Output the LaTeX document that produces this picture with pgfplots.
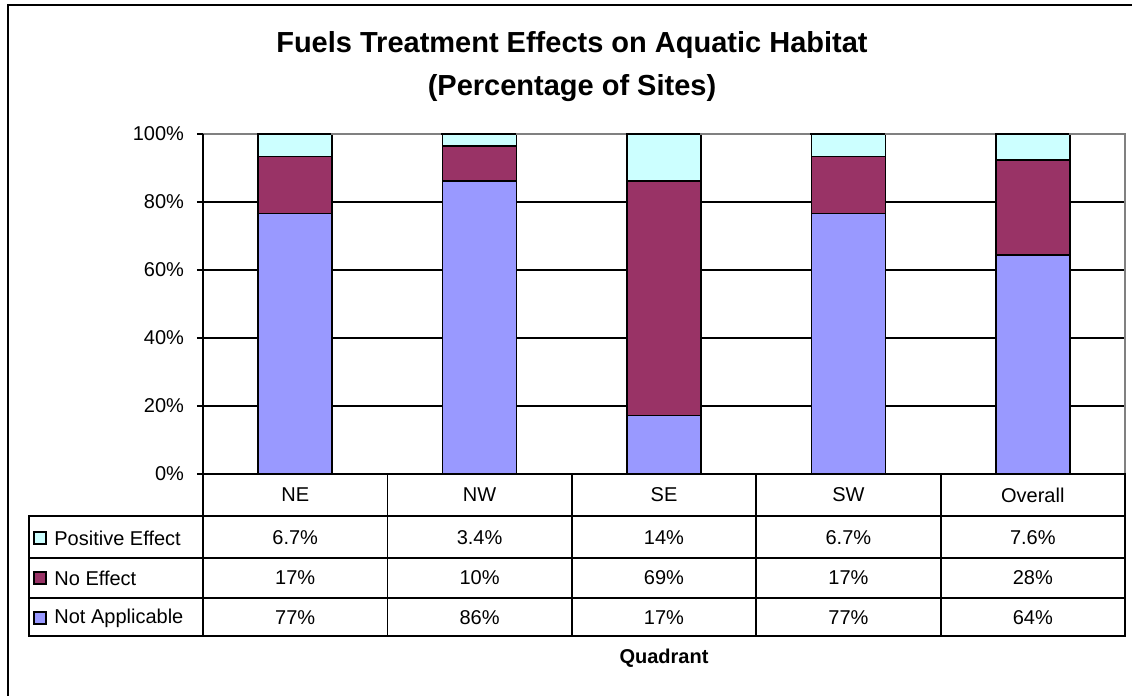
\documentclass[border=0pt]{standalone}
\usepackage{fontspec}
\setmainfont{Liberation Sans}
\usepackage{pgfplots}
\pgfplotsset{compat=1.18}
\definecolor{posc}{HTML}{CCFFFF}
\definecolor{noc}{HTML}{993366}
\definecolor{nac}{HTML}{9999FF}
\begin{document}
\begin{tikzpicture}
\useasboundingbox (0,0) rectangle (566pt,348pt);
\begin{axis}[
  at={(101.5pt,111pt)}, anchor=south west,
  scale only axis, width=461pt, height=170pt,
  xmin=-0.5, xmax=4.5, ymin=0, ymax=100, clip=false,
  ybar stacked, bar width=37pt,
  xtick=\empty, ytick={0,20,...,100},
  yticklabel={\pgfmathprintnumber{\tick}\%},
  /pgf/number format/assume math mode=true,
  yticklabel style={font=\fontsize{10}{12}\selectfont, xshift=-3pt},
  ytick pos=left, tick align=outside, major tick length=3pt,
  ytick style={draw=black, line width=0.6pt},
  ymajorgrids, major grid style={black, line width=0.6pt},
  axis line style={draw=none},
]
\addplot[fill=nac, draw=black, line width=0.8pt] coordinates {(0,76.67) (1,86.21) (2,17.24) (3,76.67) (4,64.41)};
\addplot[fill=noc, draw=black, line width=0.8pt] coordinates {(0,16.67) (1,10.34) (2,68.97) (3,16.67) (4,27.97)};
\addplot[fill=posc, draw=black, line width=0.8pt] coordinates {(0,6.66) (1,3.45) (2,13.79) (3,6.66) (4,7.62)};
\end{axis}
\begin{scope}[x=0.5pt,y=-0.5pt,yshift=348pt]
  % plot area border
  \draw[gray, line width=0.7pt] (331,134) -- (441,134);
  \draw[gray, line width=0.7pt] (516,134) -- (626,134);
  \draw[gray, line width=0.7pt] (700,134) -- (810,134);
  \draw[gray, line width=0.7pt] (885,134) -- (995,134);
  \draw[gray, line width=0.7pt] (203,134) -- (257,134);
  \draw[gray, line width=0.7pt] (1069,134) -- (1125,134) -- (1125,474);
  \draw[black, line width=0.8pt] (203,134) -- (203,474);
  % data table
  \draw[line width=0.9pt] (203,474) rectangle (1125,636);
  \draw[line width=0.9pt] (29,516) rectangle (1125,636);
  \draw[line width=0.9pt] (29,558) -- (1125,558);
  \draw[line width=0.9pt] (29,598) -- (1125,598);
  \foreach \k in {1,2,3,4} {
    \draw[line width=0.9pt] ({203+\k*184.4},474) -- ({203+\k*184.4},636);
  }
  \begin{scope}[every node/.style={font=\fontsize{10}{12}\selectfont, inner sep=0pt}]
    \node at (295.2,495) {NE};
    \node at (479.6,495) {NW};
    \node at (664.0,495) {SE};
    \node at (848.4,495) {SW};
    \node at (1032.8,495) {Overall};
    \node at (295.2,538) {6.7\%};
    \node at (479.6,538) {3.4\%};
    \node at (664.0,538) {14\%};
    \node at (848.4,538) {6.7\%};
    \node at (1032.8,538) {7.6\%};
    \node at (295.2,578) {17\%};
    \node at (479.6,578) {10\%};
    \node at (664.0,578) {69\%};
    \node at (848.4,578) {17\%};
    \node at (1032.8,578) {28\%};
    \node at (295.2,618) {77\%};
    \node at (479.6,618) {86\%};
    \node at (664.0,618) {17\%};
    \node at (848.4,618) {77\%};
    \node at (1032.8,618) {64\%};
    \draw[fill=posc, line width=0.6pt] (34,532) rectangle (46,544);
    \draw[fill=noc, line width=0.6pt] (34,572) rectangle (46,584);
    \draw[fill=nac, line width=0.6pt] (34,612) rectangle (46,624);
    \node[anchor=west] at (54,538) {Positive Effect};
    \node[anchor=west] at (54,578) {No Effect};
    \node[anchor=west] at (54,618) {Not Applicable};
    \node[font=\fontsize{10}{12}\selectfont\bfseries] at (664,658) {Quadrant};
  \end{scope}
  % title
  \node[font=\fontsize{14.5}{17}\selectfont\bfseries] at (572,45) {Fuels Treatment Effects on Aquatic Habitat};
  \node[font=\fontsize{14.5}{17}\selectfont\bfseries] at (572,88) {(Percentage of Sites)};
  % chart frame
  \draw[line width=1.2pt] (8,760) -- (8,5) -- (1200,5);
\end{scope}
\end{tikzpicture}
\end{document}
